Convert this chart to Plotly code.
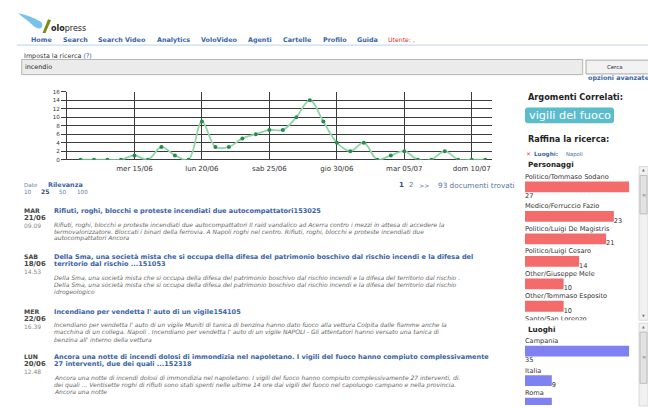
import plotly.graph_objects as go
import pandas as pd

# ---------------- data ----------------
dates = pd.date_range("2011-06-11", "2011-07-11", freq="D")
daily_docs = [0, 0, 0, 0, 1, 0, 3, 1, 0, 9, 3, 3, 5, 6, 7, 7, 10, 14, 9, 4,
              2, 4, 0, 1, 2, 0, 0, 2, 0, 0, 0]
tick_dates = ["2011-06-15", "2011-06-20", "2011-06-25", "2011-06-30", "2011-07-05", "2011-07-10"]
tick_labels = ["mer 15/06", "lun 20/06", "sab 25/06", "gio 30/06", "mar 05/07", "dom 10/07"]
y_ticks = [0, 2, 4, 6, 8, 10, 12, 14, 16]

people = ["Politico/Tommaso Sodano", "Medico/Ferruccio Fazio", "Politico/Luigi De Magistris",
          "Politico/Luigi Cesaro", "Other/Giuseppe Mele", "Other/Tommaso Esposito",
          "Santo/San Lorenzo"]
people_counts = [27, 23, 21, 14, 10, 10, 9]
places = ["Campania", "Italia", "Roma"]
place_counts = [35, 9, 9]

nav_items = ["Home", "Search", "Search Video", "Analytics", "VoloVideo", "Agenti",
             "Cartelle", "Profilo", "Guida"]

art_days = ["MAR", "SAB", "MER", "LUN"]
art_dates = ["21/06", "18/06", "22/06", "20/06"]
art_times = ["09.09", "14.53", "16.39", "12.48"]
art_titles = [
    ["Rifiuti, roghi, blocchi e proteste incendiati due autocompattatori153025"],
    ["Della Sma, una società mista che si occupa della difesa del patrimonio boschivo dal rischio incendi e la difesa del",
     "territorio dal rischio ...151053"],
    ["Incendiano per vendetta l' auto di un vigile154105"],
    ["Ancora una notte di incendi dolosi di immondizia nel napoletano. I vigili del fuoco hanno compiuto complessivamente",
     "27 interventi, due dei quali ...152318"],
]
art_snippets = [
    ["Rifiuti, roghi, blocchi e proteste incendiati due autocompattatori Il raid vandalico ad Acerra contro i mezzi in attesa di accedere la",
     "termovalorizzatore. Bloccati i binari della ferrovia. A Napoli roghi nel centro. Rifiuti, roghi, blocchi e proteste incendiati due",
     "autocompattatori Ancora"],
    ["Della Sma, una società mista che si occupa della difesa del patrimonio boschivo dal rischio incendi e la difesa del territorio dal rischio .",
     "Della Sma, una società mista che si occupa della difesa del patrimonio boschivo dal rischio incendi e la difesa del territorio dal rischio",
     "idrogeologico"],
    ["Incendiano per vendetta l' auto di un vigile Muniti di tanica di benzina hanno dato fuoco alla vettura Colpita dalle fiamme anche la",
     "macchina di un collega. Napoli . Incendiano per vendetta l' auto di un vigile NAPOLI - Gli attentatori hanno versato una tanica di",
     "benzina all' interno della vettura"],
    ["Ancora una notte di incendi dolosi di immondizia nel napoletano. I vigili del fuoco hanno compiuto complessivamente 27 interventi, di.",
     "dei quali ... Ventisette roghi di rifiuti sono stati spenti nelle ultime 14 ore dai vigili del fuoco nel capoluogo campano e nella provincia.",
     "Ancora una notte"],
]

# ---------------- helpers ----------------
W, H = 648, 408
FONT = "DejaVu Sans"


def px(x):
    return x / W


def py(y):
    return 1 - y / H


annotations = []
shapes = []


def text(x, y, s, size=6, color="#333", anchor="left", family=FONT):
    annotations.append(dict(xref="paper", yref="paper", x=px(x), y=py(y), text=s,
                            showarrow=False, xanchor=anchor, yanchor="middle",
                            font=dict(size=size, color=color, family=family),
                            borderpad=0))


def rect(x0, y0, x1, y1, fill, line=None, lw=1):
    shapes.append(dict(type="rect", xref="paper", yref="paper",
                       x0=px(x0), x1=px(x1), y0=py(y1), y1=py(y0),
                       fillcolor=fill, line=dict(color=line or fill, width=lw if line else 0),
                       layer="below"))


def path(cmds, fill):
    s = ""
    for c in cmds:
        op, pts = c[0], c[1:]
        s += op + " " + " ".join(f"{px(a):.5f},{py(b):.5f}" for a, b in pts) + " "
    shapes.append(dict(type="path", xref="paper", yref="paper", path=s + "Z",
                       fillcolor=fill, line=dict(width=0), layer="below"))


BLUE = "#3a63a5"

# ---------------- header ----------------
path([("M", (18, 10.5)), ("C", (26, 12), (34, 15), (40, 18.5)),
      ("C", (43.5, 20.5), (43, 25.5), (39.5, 25.8)),
      ("C", (36, 26), (33, 23), (30, 20)), ("C", (25, 16), (21, 13), (18, 10.5))], "#78c3ec")
path([("M", (42.5, 30.5)), ("L", (45.5, 30.5)), ("L", (51, 17.5)), ("L", (48, 16.5))], "#7a8c1c")
text(49.5, 26, "<b>olo</b>press", size=8, color="#222")

nav_x = [30, 62, 97, 156, 200, 247, 282, 322, 356]
for nx, item in zip(nav_x, nav_items):
    text(nx, 37.3, f"<b>{item}</b>", size=6.4, color=BLUE)
text(387, 37.3, "Utente: ,", size=6.2, color="#e03030")
shapes.append(dict(type="line", xref="paper", yref="paper", x0=px(17), x1=1,
                   y0=py(42.7), y1=py(42.7), line=dict(color="#c6dcf0", width=1.2)))

text(23, 53.3, "Imposta la ricerca <span style='color:#3a63a5'>(?)</span>", size=6.4, color="#333")
rect(21.7, 57.3, 582.7, 72.7, "#ebebeb", "#b4b4b4")
text(23.5, 65, "incendio", size=6.4, color="#222")
rect(586, 58, 650, 72, "#f2f2f2", "#a8a8a8")
text(614, 65, "Cerca", size=5.4, color="#222", anchor="center")
text(587, 76.5, "<b>opzioni avanzate</b>", size=6.4, color=BLUE)

# ---------------- right column ----------------
text(526.5, 95, "<b>Argomenti Correlati:</b>", size=8.2, color="#222")
path([("M", (528, 106)), ("L", (611, 106)), ("Q", (614, 106), (614, 109)),
      ("L", (614, 119)), ("Q", (614, 122), (611, 122)), ("L", (528, 122)),
      ("Q", (525, 122), (525, 119)), ("L", (525, 109)), ("Q", (525, 106), (528, 106))], "#5bbccd")
text(569.5, 114, "vigili del fuoco", size=11.3, color="white", anchor="center")
text(526.5, 138.5, "<b>Raffina la ricerca:</b>", size=8.2, color="#222")
text(525, 153.3, "✕", size=5.8, color="#e03030")
text(532.5, 153.5, "<b>Luoghi:</b>", size=5.7, color=BLUE)
text(565, 153.5, "Napoli", size=5.3, color=BLUE)
text(526.5, 163.5, "<b>Personaggi</b>", size=7.2, color="#222")
text(526.5, 331, "<b>Luoghi</b>", size=7.2, color="#222")

# scrollbars
rect(639, 166, 648, 322, "#f1f1f1", "#dadada")
rect(640, 175, 647, 214, "#e2e2e2", "#bdbdbd")
text(643.5, 169.5, "▲", size=3.5, color="#777", anchor="center")
text(643.5, 317.5, "▼", size=3.5, color="#777", anchor="center")
text(643.5, 194.5, "≡", size=5, color="#888", anchor="center")
rect(639, 325, 648, 409, "#f1f1f1", "#dadada")
rect(640, 334, 647, 386, "#e2e2e2", "#bdbdbd")
text(643.5, 329, "▲", size=3.5, color="#777", anchor="center")
text(643.5, 359.5, "≡", size=5, color="#888", anchor="center")

# ---------------- result list ----------------
text(22.5, 184.3, "Date", size=5.6, color="#6a7fa8")
text(46.5, 184.3, "<b>Rilevanza</b>", size=6.4, color=BLUE)
text(22.5, 191.7, "10", size=5.7, color="#6a7fa8")
text(40, 191.7, "<b>25</b>", size=6.2, color="#3a4f78")
text(58.3, 191.7, "50", size=5.7, color="#6a7fa8")
text(76, 191.7, "100", size=5.7, color="#6a7fa8")
text(397.5, 185, "<b>1</b>", size=7, color="#2f4f88")
text(407.5, 185, "2", size=7, color="#5a75a5")
text(417.5, 185, "&gt;&gt;", size=6.2, color="#5a75a5")
text(516, 185, "93 documenti trovati", size=7.3, color="#5a75a5", anchor="right")

art_top = [211, 257.5, 313.2, 359.3]
for top, d, dt, tm, titles, snips in zip(art_top, art_days, art_dates, art_times,
                                         art_titles, art_snippets):
    text(22.5, top - 0.4, f"<b>{d}</b>", size=6.2, color="#444")
    text(22.5, top + 7.4, f"<b>{dt}</b>", size=6.9, color="#444")
    text(22.5, top + 15, tm, size=6.0, color="#888")
    yy = top
    for t in titles:
        text(52.5, yy, f"<b>{t}</b>", size=6.55, color=BLUE)
        yy += 7.4
    yy += 14 - 7.4
    for s in snips:
        text(53, yy, f"<i>{s}</i>", size=6.0, color="#666")
        yy += 7


# list rows: a bar whose value label wraps (the maximum) pushes the next row down
def row_positions(vals):
    top = max(vals)
    pos, cur = [], 0.0
    for k, v in enumerate(vals):
        if k > 0:
            cur += 1 + (0.316 if vals[k - 1] == top else 0)
        pos.append(cur)
    return pos


# ---------------- figure ----------------
fig = go.Figure()
fig.add_trace(go.Scatter(x=dates, y=daily_docs, mode="lines+markers",
                         line=dict(shape="spline", smoothing=1, color="#8ed6a6", width=1.8),
                         marker=dict(size=4, color="#2a8a4e"),
                         xaxis="x", yaxis="y", hoverinfo="x+y", showlegend=False))


def add_bar_list(names, vals, color, xa, ya):
    pos = row_positions(vals)
    top = max(vals)
    fig.add_trace(go.Bar(x=vals, y=pos, orientation="h", width=0.482,
                         marker=dict(color=color, line=dict(width=0)),
                         xaxis=xa, yaxis=ya, showlegend=False, hoverinfo="skip"))
    fig.add_trace(go.Scatter(x=[0] * len(names), y=[p - 0.285 for p in pos], text=names,
                             mode="text", textposition="top right", cliponaxis=True,
                             textfont=dict(size=6.6, color="#333", family=FONT),
                             xaxis=xa, yaxis=ya, showlegend=False, hoverinfo="skip"))
    fig.add_trace(go.Scatter(x=[0 if v == top else v for v in vals],
                             y=[p + 0.26 if v == top else p + 0.22 for p, v in zip(pos, vals)],
                             text=[str(v) for v in vals], mode="text",
                             textposition=["bottom right" if v == top else "middle right" for v in vals],
                             cliponaxis=True, textfont=dict(size=6.6, color="#333", family=FONT),
                             xaxis=xa, yaxis=ya, showlegend=False, hoverinfo="skip"))


add_bar_list(people, people_counts, "#f36b6b", "x2", "y2")
add_bar_list(places, place_counts, "#7f80f2", "x3", "y3")

GRID = "#3c3c3c"
fig.update_layout(
    width=W, height=H, margin=dict(l=0, r=0, t=0, b=0),
    paper_bgcolor="white", plot_bgcolor="white",
    font=dict(family=FONT, color="#333"),
    showlegend=False,
    xaxis=dict(domain=[px(67), px(492)], range=["2011-06-10", "2011-07-11 12:00"],
               tickvals=tick_dates, ticktext=tick_labels, showgrid=True,
               gridcolor=GRID, gridwidth=1, zeroline=False, showline=False,
               ticks="outside", ticklen=2, tickcolor="white",
               tickfont=dict(size=7, color="#333"), anchor="y", fixedrange=True),
    yaxis=dict(domain=[py(159), py(90)], range=[0, 16], tickvals=y_ticks,
               showgrid=True, gridcolor=GRID, gridwidth=1,
               zeroline=True, zerolinecolor=GRID, zerolinewidth=1,
               showline=True, linecolor=GRID, linewidth=1,
               ticks="outside", ticklen=5, tickcolor=GRID,
               tickfont=dict(size=5.6, color="#333"), anchor="x", fixedrange=True),
    xaxis2=dict(domain=[px(525), px(629.3)], range=[0, max(people_counts)], visible=False,
                anchor="y2", fixedrange=True),
    yaxis2=dict(domain=[py(322), py(166)], range=[5.939, -0.9035], visible=False,
                anchor="x2", fixedrange=True),
    xaxis3=dict(domain=[px(525), px(629.3)], range=[0, max(place_counts)], visible=False,
                anchor="y3", fixedrange=True),
    yaxis3=dict(domain=[0, py(338)], range=[2.399, -0.671], visible=False,
                anchor="x3", fixedrange=True),
    annotations=annotations, shapes=shapes,
)

fig.write_html("out.html", config={"displayModeBar": False},
               post_script="document.body.style.margin='0px';document.body.style.overflow='hidden';")
